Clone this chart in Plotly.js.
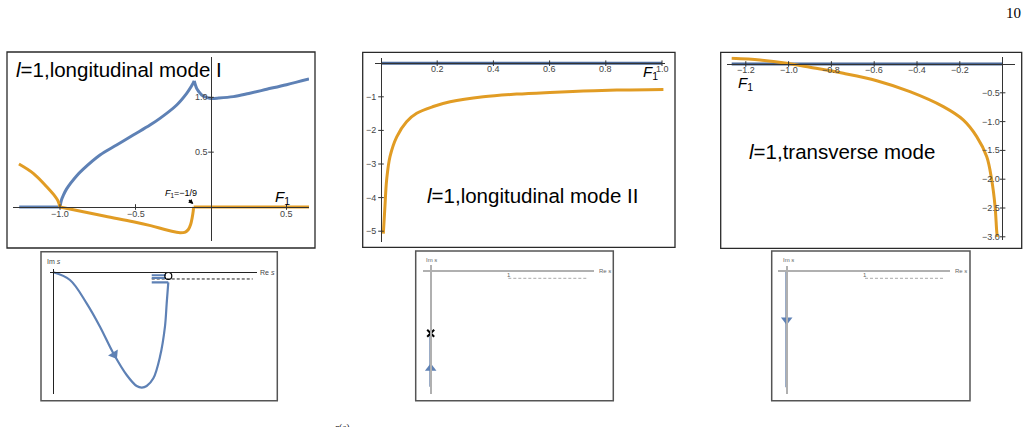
<!DOCTYPE html>
<html><head><meta charset="utf-8">
<script src="https://cdn.plot.ly/plotly-3.0.1.min.js"></script>
<style>html,body{margin:0;padding:0;background:#fff}#c{width:1029px;height:427px}</style>
</head><body><div id="c"></div>
<script>
// ---------- data ----------
// Panel 1: l=1, longitudinal mode I
const p1BlueFlatX = [-1.27, -1.0];
const p1BlueFlatY = [0, 0];
const p1BlueRiseX = [-1.0, -0.99, -0.978, -0.956, -0.889, -0.846, -0.735, -0.625, -0.515, -0.404, -0.338, -0.227, -0.161, -0.13, -0.111];
const p1BlueRiseY = [0, 0.065, 0.105, 0.165, 0.285, 0.345, 0.474, 0.565, 0.656, 0.747, 0.808, 0.93, 1.036, 1.1, 1.15];
const p1BlueTailX = [-0.111, -0.095, -0.08, -0.062, -0.04, -0.02, 0, 0.05, 0.148, 0.25, 0.369, 0.5, 0.649];
const p1BlueTailY = [1.15, 1.082, 1.05, 1.021, 1.005, 0.995, 0.99, 0.993, 1.006, 1.035, 1.073, 1.115, 1.167];
const p1OrangeLeftX = [-1.272, -1.177, -1.088, -1.04, -1.015, -1.0];
const p1OrangeLeftY = [0.392, 0.307, 0.185, 0.11, 0.06, 0];
const p1OrangeMidX = [-1.0, -0.846, -0.7, -0.515, -0.4, -0.293, -0.235, -0.205, -0.17, -0.15, -0.135, -0.125, -0.118, -0.115];
const p1OrangeMidY = [0, -0.043, -0.085, -0.134, -0.17, -0.21, -0.228, -0.234, -0.228, -0.205, -0.16, -0.1, -0.04, 0];
const p1OrangeFlatX = [-0.115, 0.649];
const p1OrangeFlatY = [0, 0];
const p1XTicks = [-1.0, -0.5, 0.5];
const p1XTickText = ['\u22121.0', '\u22120.5', '0.5'];
const p1YTicks = [0.5, 1.0];
const p1YTickText = ['0.5', '1.0'];
const p1Mark = {x: -0.117, y: 0.027, text: '<i>F</i><sub>1</sub>=\u22121/9'};

// Panel 2: l=1, longitudinal mode II
const p2BlueX = [0, 1.0];
const p2BlueY = [0, 0];
const p2OrangeX = [0.0083, 0.014, 0.02, 0.032, 0.056, 0.091, 0.127, 0.186, 0.246, 0.364, 0.483, 0.601, 0.72, 0.839, 1.005];
const p2OrangeY = [-5.07, -4.27, -3.48, -2.78, -2.19, -1.74, -1.49, -1.29, -1.15, -1.0, -0.92, -0.87, -0.83, -0.80, -0.78];
const p2XTicks = [0.2, 0.4, 0.6, 0.8, 1.0];
const p2XTickText = ['0.2', '0.4', '0.6', '0.8', '1.0'];
const p2YTicks = [-1, -2, -3, -4, -5];
const p2YTickText = ['\u22121', '\u22122', '\u22123', '\u22124', '\u22125'];

// Panel 3: l=1, transverse mode
const p3BlueX = [-1.266, 0];
const p3BlueY = [0, 0];
const p3OrangeX = [-1.266, -1.134, -1.009, -0.9, -0.744, -0.588, -0.433, -0.277, -0.184, -0.121, -0.074, -0.051, -0.035, -0.028, -0.025];
const p3OrangeY = [0.099, 0.069, 0.012, -0.057, -0.162, -0.29, -0.48, -0.74, -0.97, -1.26, -1.61, -2.01, -2.48, -2.88, -3.0];
const p3XTicks = [-1.2, -1.0, -0.8, -0.6, -0.4, -0.2];
const p3XTickText = ['\u22121.2', '\u22121.0', '\u22120.8', '\u22120.6', '\u22120.4', '\u22120.2'];
const p3YTicks = [-0.5, -1.0, -1.5, -2.0, -2.5, -3.0];
const p3YTickText = ['\u22120.5', '\u22121.0', '\u22121.5', '\u22122.0', '\u22122.5', '\u22123.0'];

// Panel 4: contour in s-plane (mode I)
const p4CurveX = [0, 0.145, 0.29, 0.406, 0.522, 0.638, 0.725, 0.77, 0.812, 0.87, 0.928, 0.971, 0.986, 1.0];
const p4CurveY = [0, -0.067, -0.27, -0.473, -0.704, -0.893, -0.989, -1.003, -0.989, -0.922, -0.733, -0.472, -0.27, -0.087];
const p4StubX = [1.0, 0.856];
const p4StubY = [-0.087, -0.087];
const p4CutAX = [0.856, 0.98], p4CutAY = [-0.026, -0.026];
const p4CutBX = [0.856, 0.98], p4CutBY = [-0.050, -0.050];
const p4DashX = [0.856, 1.734], p4DashY = [-0.058, -0.058];
const p4Circle = {x: [1.0], y: [-0.032]};
const p4Arrow = {x: [0.53], y: [-0.716], angle: 148};

// Panel 5: contour (mode II)
const p5LineX = [0, 0], p5LineY = [-0.807, -1.495];
const p5Cross = {x: [0], y: [-0.807]};
const p5Arrow = {x: [0], y: [-1.258]};
const p5DashX = [1.0, 2.018], p5DashY = [-0.098, -0.098];

// Panel 6: contour (transverse)
const p6LineX = [0, 0], p6LineY = [-0.012, -1.489];
const p6Arrow = {x: [0], y: [-0.63]};
const p6DashX = [1.0, 2.0], p6DashY = [-0.097, -0.097];

// ---------- styling / layout ----------
const W = 1029, H = 427;
const BLUE = '#5E81B5', ORANGE = '#E19C24', NAVY = '#4A6898';
const TF = 'Liberation Sans, Arial, sans-serif';
const SF = 'Liberation Serif, DejaVu Serif, serif';

const panels = [
  {dom: [13, 309, 57, 241], o: [211, 207], s: [151, 109.7], zc: '#333', zw: 1},
  {dom: [375, 665, 58, 241.7], o: [381, 63.2], s: [281, 33.6], zc: '#333', zw: 1},
  {dom: [726.7, 1015, 56.5, 240], o: [1002.6, 64], s: [214, 57.6], zc: '#333', zw: 1},
  {dom: [50, 256.7, 269, 394], o: [53.3, 272.3], s: [115, 115], zc: '#222', zw: 1},
  {dom: [422.7, 594.3, 265, 394], o: [430.7, 270.7], s: [77.6, 77.6], zc: '#b0b0b0', zw: 2},
  {dom: [778.3, 950, 266, 394], o: [786.7, 270.7], s: [78.3, 78.3], zc: '#b0b0b0', zw: 2}
];
const frames = [
  {b: [7, 315, 52, 248], c: '#2a2a2a', w: 1.3},
  {b: [362.7, 675, 52.3, 247.3], c: '#2a2a2a', w: 1.3},
  {b: [720.7, 1021.7, 52.3, 248.3], c: '#2a2a2a', w: 1.3},
  {b: [41, 277.3, 251.7, 400.7], c: '#555', w: 1.5},
  {b: [415.7, 613.3, 251, 400.7], c: '#555', w: 1.5},
  {b: [771.7, 970, 251, 400.7], c: '#555', w: 1.5}
];

const layout = {
  width: W, height: H, margin: {l: 0, r: 0, t: 0, b: 0},
  paper_bgcolor: '#fff', plot_bgcolor: 'rgba(0,0,0,0)',
  showlegend: false, shapes: [], annotations: [],
  font: {family: TF, color: '#000'}
};

panels.forEach((p, i) => {
  const k = i === 0 ? '' : String(i + 1);
  const common = {showgrid: false, showticklabels: false, ticks: '', zeroline: true,
    zerolinecolor: p.zc, zerolinewidth: p.zw, showline: false, fixedrange: true, zerolinelayer: 'above traces'};
  layout['xaxis' + k] = Object.assign({}, common, {
    domain: [p.dom[0] / W, p.dom[1] / W],
    range: [(p.dom[0] - p.o[0]) / p.s[0], (p.dom[1] - p.o[0]) / p.s[0]],
    anchor: 'y' + k});
  layout['yaxis' + k] = Object.assign({}, common, {
    domain: [1 - p.dom[3] / H, 1 - p.dom[2] / H],
    range: [(p.o[1] - p.dom[3]) / p.s[1], (p.o[1] - p.dom[2]) / p.s[1]],
    anchor: 'x' + k});
});
frames.forEach(f => layout.shapes.push({type: 'rect', xref: 'paper', yref: 'paper',
  x0: f.b[0] / W, x1: f.b[1] / W, y0: 1 - f.b[3] / H, y1: 1 - f.b[2] / H,
  line: {color: f.c, width: f.w}, fillcolor: 'rgba(0,0,0,0)'}));

const traces = [];
function line(k, x, y, color, width, dash, shape) {
  traces.push({x: x, y: y, xaxis: 'x' + k, yaxis: 'y' + k, mode: 'lines', hoverinfo: 'skip',
    line: {color: color, width: width, dash: dash || 'solid', shape: shape || 'linear', smoothing: 1}});
}
function marks(k, pt, symbol, size, color, lineColor, lw, angle) {
  traces.push({x: pt.x, y: pt.y, xaxis: 'x' + k, yaxis: 'y' + k, mode: 'markers', hoverinfo: 'skip', cliponaxis: false,
    marker: {symbol: symbol, size: size, color: color, angle: angle || 0, line: {color: lineColor, width: lw}}});
}
function ticks(k, xt, yt) {
  traces.push({x: xt, y: xt.map(() => 0), xaxis: 'x' + k, yaxis: 'y' + k, mode: 'markers', hoverinfo: 'skip',
    marker: {symbol: 'line-ns-open', size: 4, color: '#333', line: {color: '#333', width: 1}}});
  traces.push({x: yt.map(() => 0), y: yt, xaxis: 'x' + k, yaxis: 'y' + k, mode: 'markers', hoverinfo: 'skip',
    marker: {symbol: 'line-ew-open', size: 4, color: '#333', line: {color: '#333', width: 1}}});
}
function tickLabels(k, xt, xtt, yt, ytt, xs, ys) {
  xt.forEach((v, j) => layout.annotations.push({xref: 'x' + k, yref: 'y' + k, x: v, y: 0, yshift: xs,
    text: xtt[j], showarrow: false, font: {size: 9, color: '#444', family: TF}, xanchor: 'center', yanchor: 'middle'}));
  yt.forEach((v, j) => layout.annotations.push({xref: 'x' + k, yref: 'y' + k, x: 0, y: v, xshift: ys,
    text: ytt[j], showarrow: false, font: {size: 9, color: '#444', family: TF}, xanchor: 'right', yanchor: 'middle'}));
}
function ptext(xpx, ypx, text, size, opts) {
  layout.annotations.push(Object.assign({xref: 'paper', yref: 'paper', x: xpx / W, y: 1 - ypx / H,
    text: text, showarrow: false, xanchor: 'left', yanchor: 'middle', font: {size: size, color: '#000', family: TF}}, opts || {}));
}

// Panel 1
line('', p1BlueFlatX, p1BlueFlatY, BLUE, 3);
line('', p1BlueRiseX, p1BlueRiseY, BLUE, 3, 'solid', 'spline');
line('', p1BlueTailX, p1BlueTailY, BLUE, 3, 'solid', 'spline');
line('', p1OrangeLeftX, p1OrangeLeftY, ORANGE, 3, 'solid', 'spline');
line('', p1OrangeMidX, p1OrangeMidY, ORANGE, 3, 'solid', 'spline');
line('', p1OrangeFlatX, p1OrangeFlatY, ORANGE, 3);
ticks('', p1XTicks, p1YTicks);
tickLabels('', p1XTicks, p1XTickText, p1YTicks, p1YTickText, -7, -1);
layout.annotations.push({xref: 'x', yref: 'y', x: p1Mark.x, y: p1Mark.y, text: p1Mark.text,
  showarrow: true, arrowhead: 2, arrowsize: 0.8, arrowwidth: 1.2, arrowcolor: '#000', ax: -12, ay: -11,
  font: {size: 9, color: '#000', family: TF}});
// Panel 2
line('2', p2BlueX, p2BlueY, NAVY, 3);
line('2', p2OrangeX, p2OrangeY, ORANGE, 3, 'solid', 'spline');
ticks('2', p2XTicks, p2YTicks);
tickLabels('2', p2XTicks, p2XTickText, p2YTicks, p2YTickText, -6, -3);
// Panel 3
line('3', p3BlueX, p3BlueY, NAVY, 3);
line('3', p3OrangeX, p3OrangeY, ORANGE, 3, 'solid', 'spline');
ticks('3', p3XTicks, p3YTicks);
tickLabels('3', p3XTicks, p3XTickText, p3YTicks, p3YTickText, -6, -1);
// Panel 4
line('4', p4DashX, p4DashY, '#222', 1, '3px,2px');
line('4', p4CurveX, p4CurveY, BLUE, 2.2, 'solid', 'spline');
line('4', p4StubX, p4StubY, BLUE, 2.2);
line('4', p4CutAX, p4CutAY, BLUE, 2);
line('4', p4CutBX, p4CutBY, BLUE, 2);
marks('4', p4Circle, 'circle-open', 7, '#000', '#000', 1.2);
marks('4', p4Arrow, 'triangle-up', 10, BLUE, BLUE, 0, p4Arrow.angle);
// Panel 5
line('5', p5DashX, p5DashY, '#aaa', 1, '3px,2px');
line('5', p5LineX, p5LineY, NAVY, 2.5);
marks('5', p5Cross, 'x-thin-open', 7, '#000', '#000', 2);
marks('5', p5Arrow, 'triangle-up', 10, BLUE, BLUE, 0);
// Panel 6
line('6', p6DashX, p6DashY, '#aaa', 1, '3px,2px');
line('6', p6LineX, p6LineY, NAVY, 2.5);
marks('6', p6Arrow, 'triangle-down', 10, BLUE, BLUE, 0);

// Text labels
ptext(14, 70, '<i>l</i>=1,longitudinal mode I', 20.5);
ptext(425, 195, '<i>l</i>=1,longitudinal mode II', 20.5);
ptext(746.7, 152, '<i>l</i>=1,transverse mode', 20.5);
ptext(273, 197, '<i>F</i><sub>1</sub>', 15);
ptext(641, 73, '<i>F</i><sub>1</sub>', 15);
ptext(736, 83, '<i>F</i><sub>1</sub>', 15);
// bottom panel labels
ptext(53.7, 261, 'Im <i>s</i>', 7, {xanchor: 'center', font: {size: 7, color: '#444', family: TF}});
ptext(258, 272.3, 'Re <i>s</i>', 7, {font: {size: 7, color: '#444', family: TF}});
ptext(431, 260, 'Im <i>s</i>', 6, {xanchor: 'center', font: {size: 6, color: '#666', family: TF}});
ptext(596.5, 270.7, 'Re <i>s</i>', 6, {font: {size: 6, color: '#666', family: TF}});
ptext(508.5, 274.5, '1', 6, {xanchor: 'center', font: {size: 6, color: '#666', family: TF}});
ptext(788, 260, 'Im <i>s</i>', 6, {xanchor: 'center', font: {size: 6, color: '#666', family: TF}});
ptext(952.5, 270.7, 'Re <i>s</i>', 6, {font: {size: 6, color: '#666', family: TF}});
ptext(865, 274.5, '1', 6, {xanchor: 'center', font: {size: 6, color: '#666', family: TF}});
// page furniture
ptext(1013, 13, '10', 15, {xanchor: 'center', font: {size: 15, color: '#000', family: SF}});
ptext(342, 419.5, '<i>r</i>(<i>s</i>)', 10, {xanchor: 'center', yanchor: 'top', font: {size: 10, color: '#222', family: SF}});

traces.forEach(t => t.showlegend = false);
Plotly.newPlot('c', traces, layout, {staticPlot: true, displayModeBar: false});
</script></body></html>
